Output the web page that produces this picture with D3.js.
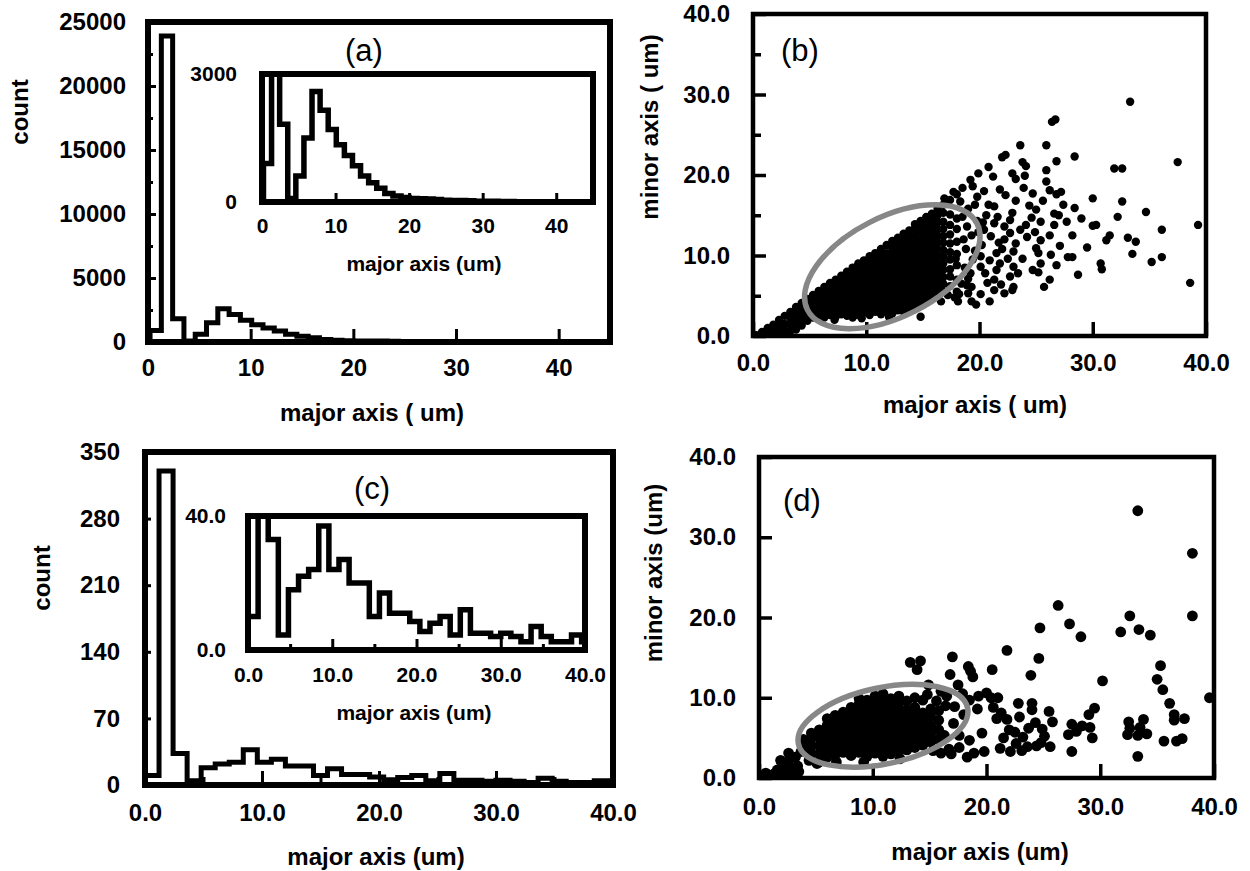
<!DOCTYPE html>
<html>
<head>
<meta charset="utf-8">
<script src="https://cdn.jsdelivr.net/npm/d3@7"></script>
<style>
  body { margin: 0; background: #fff; }
</style>
</head>
<body>
<script>
// ---- data ----

// (a) histogram of major axis, all objects (bin start, bin width, counts)
var aBinStart = 0.2;
var aBinWidth = 1.1;
var aCounts = [900, 23900, 1820, 80, 610, 1500, 2590, 2150, 1700, 1340, 1090, 850, 610, 450,
  325, 200, 140, 105, 80, 75, 70, 60, 40, 35, 35, 30, 20, 15, 15, 12, 10, 8, 8, 6, 5, 5, 4, 3, 3, 2];

// (c) histogram of major axis, selected objects
var cBinStart = 0;
var cBinWidth = 1.2;
var cCounts = [10, 330, 33, 4.5, 18, 22, 24, 37, 24, 27, 20, 20, 10, 17, 11, 11, 8.5, 5.5, 8,
  10, 4.5, 12, 5, 5, 4, 5, 4, 2.5, 7, 4, 2.5, 2.5, 4.5, 2.5];

// tick labels
var aYTicks = [0, 5000, 10000, 15000, 20000, 25000];
var aYMinor = [2500, 7500, 12500, 17500, 22500];
var aXTicks = [0, 10, 20, 30, 40];
var aInsetYTicks = [0, 3000];
var cYTicks = [0, 70, 140, 210, 280, 350];
var xTicks40 = [0, 10, 20, 30, 40];
var minor5 = [5, 15, 25, 35];
var cInsetYTicks = [0, 40];

// (b) scatter, dense core as columns [major, [minor...]]
var bCore = [
  [0.3, [0.1]], [0.8, [0.5]], [1.3, [0.4, 1.0]], [1.8, [0.6, 1.4]], [2.3, [0.5, 1.3, 2.0]],
  [2.8, [0.7, 1.5, 2.5]], [3.3, [0.6, 1.4, 2.2, 3.0]], [3.8, [0.8, 1.6, 2.4, 3.2, 3.6]],
  [4.3, [1.3, 2.0, 2.8, 3.6, 4.1]], [4.8, [1.9, 2.6, 3.4, 4.1, 4.6]], [5.3, [2.3, 3.0, 3.8, 4.5, 5.1]],
  [5.8, [2.5, 3.3, 4.1, 4.9, 5.6]], [6.3, [2.3, 3.0, 3.8, 4.6, 5.4, 6.1]],
  [6.8, [2.6, 3.4, 4.2, 5.0, 5.8, 6.6]], [7.3, [2.4, 3.2, 4.0, 4.8, 5.6, 6.3, 7.0]],
  [7.8, [2.7, 3.5, 4.3, 5.1, 5.9, 6.7, 7.5]], [8.3, [2.5, 3.3, 4.1, 4.9, 5.6, 6.4, 7.2, 8.0]],
  [8.8, [2.3, 3.0, 3.8, 4.6, 5.4, 6.2, 7.0, 7.8, 8.5]], [9.3, [2.6, 3.4, 4.2, 5.0, 5.8, 6.6, 7.4, 8.2, 9.0]],
  [9.8, [2.9, 3.7, 4.5, 5.3, 6.1, 6.9, 7.7, 8.5, 9.4]],
  [10.3, [2.6, 3.4, 4.2, 5.0, 5.8, 6.6, 7.4, 8.2, 9.0, 9.9]],
  [10.8, [3.0, 3.8, 4.6, 5.4, 6.2, 7.0, 7.8, 8.6, 9.4, 10.3]],
  [11.3, [2.7, 3.5, 4.3, 5.1, 5.9, 6.7, 7.5, 8.3, 9.1, 9.9, 10.8]],
  [11.8, [3.1, 3.9, 4.7, 5.5, 6.3, 7.1, 7.9, 8.7, 9.5, 10.3, 11.3]],
  [12.3, [2.8, 3.6, 4.4, 5.2, 6.0, 6.8, 7.6, 8.4, 9.2, 10.0, 10.9, 11.8]],
  [12.8, [3.2, 4.0, 4.8, 5.6, 6.4, 7.2, 8.0, 8.8, 9.6, 10.4, 11.3, 12.2]],
  [13.3, [3.0, 3.7, 4.5, 5.3, 6.1, 6.9, 7.7, 8.5, 9.3, 10.1, 10.9, 11.8, 12.7]],
  [13.8, [3.4, 4.1, 4.9, 5.7, 6.5, 7.3, 8.1, 8.9, 9.7, 10.5, 11.3, 12.2, 13.1]],
  [14.3, [3.6, 4.4, 5.2, 6.0, 6.8, 7.6, 8.4, 9.2, 10.0, 10.8, 11.6, 12.5, 13.4, 13.9]],
  [14.8, [4.0, 4.8, 5.6, 6.4, 7.2, 8.0, 8.8, 9.6, 10.4, 11.2, 12.0, 12.8, 13.7, 14.3]],
  [15.3, [4.3, 5.1, 5.9, 6.7, 7.5, 8.3, 9.1, 9.9, 10.7, 11.5, 12.3, 13.1, 14.0, 14.8]],
  [15.8, [4.7, 5.5, 6.3, 7.1, 7.9, 8.7, 9.5, 10.3, 11.1, 11.9, 12.7, 13.5, 14.4, 15.2]],
  [16.3, [5.2, 6.0, 6.8, 7.6, 8.4, 9.2, 10.0, 10.8, 11.6, 12.4, 13.2, 14.1, 15.0, 15.8]],
  [16.8, [5.6, 6.5, 7.3, 8.2, 9.0, 9.9, 10.7, 11.6, 12.4, 13.3, 14.2, 15.3, 16.3]],
  [17.4, [6.2, 7.4, 8.3, 9.5, 10.4, 11.5, 12.6, 13.8, 15.1, 16.9]],
  [18.0, [5.5, 7.0, 8.8, 10.2, 11.7, 13.3, 14.6, 17.6]]
];

// (b) scattered points [major, minor]
var bScatter = [
  [33.3, 29.1], [26.4, 26.6], [26.7, 26.9], [23.6, 23.7], [25.9, 23.7], [28.4, 22.3], [22.0, 22.2],
  [22.3, 22.5], [37.5, 21.6], [23.8, 21.6], [24.1, 21.1], [26.8, 21.7], [20.8, 21.0], [19.9, 20.2],
  [25.9, 20.6], [31.9, 20.8], [32.6, 20.8], [19.2, 19.4], [23.2, 19.5], [19.4, 18.6], [25.9, 19.2],
  [30.0, 17.1], [23.9, 18.4], [24.7, 17.7], [26.2, 18.1], [26.8, 17.6], [27.2, 17.9], [22.3, 17.5],
  [32.6, 16.7], [18.3, 16.7], [20.8, 16.3], [21.3, 16.1], [25.0, 15.7], [28.4, 15.9], [26.6, 15.2],
  [34.7, 15.4], [32.2, 14.8], [27.7, 14.2], [25.4, 14.2], [30.0, 13.7], [30.3, 13.8], [39.3, 13.8],
  [36.1, 13.2], [24.1, 13.8], [23.6, 13.2], [31.5, 12.5], [33.1, 12.2], [33.8, 11.7], [28.2, 12.5],
  [26.2, 12.5], [31.2, 11.9], [25.4, 11.9], [25.0, 10.9], [23.2, 11.5], [23.0, 10.5], [33.5, 10.2],
  [27.8, 9.8], [28.2, 9.8], [36.1, 9.8], [35.2, 9.2], [30.7, 9.0], [30.8, 8.3], [26.8, 8.8],
  [25.2, 10.3], [25.4, 9.0], [24.7, 8.2], [25.2, 7.9], [26.2, 7.0], [25.7, 6.1], [38.6, 6.6],
  [23.0, 8.6], [23.4, 7.8], [22.7, 7.4], [23.0, 6.1], [22.9, 5.7], [22.2, 5.3], [21.3, 5.7],
  [20.9, 4.3], [19.3, 4.3], [19.7, 3.9], [18.1, 4.3], [14.8, 2.4], [21.5, 10.3], [21.8, 9.0],
  [21.5, 8.2], [21.3, 7.0], [20.4, 13.2], [20.2, 11.3], [20.1, 9.9], [20.1, 8.6], [21.6, 14.8],
  [22.2, 13.6], [22.7, 14.4], [22.2, 12.0], [22.7, 12.8], [19.2, 7.8], [19.3, 6.1], [19.0, 5.3],
  [18.4, 6.5], [18.2, 5.2], [22.0, 10.8], [22.5, 9.6], [21.0, 12.4], [21.3, 14.0], [20.6, 15.0],
  [19.8, 14.3], [19.3, 12.5], [19.0, 15.8], [18.8, 10.8], [19.4, 9.5], [20.7, 6.6], [21.9, 6.4],
  [23.8, 9.6], [24.2, 12.3], [24.4, 16.2], [23.2, 16.8], [24.6, 14.7], [22.9, 15.3], [21.8, 18.2],
  [20.4, 18.0], [19.8, 17.3], [21.2, 19.8], [22.9, 20.2], [24.9, 12.9], [26.6, 13.8], [27.1, 11.2],
  [26.3, 10.1], [27.4, 16.3], [25.6, 16.8], [24.0, 19.9], [29.0, 14.6], [29.5, 11.0], [28.7, 7.6],
  [27.0, 15.0], [7.2, 2.0], [9.6, 2.2], [12.0, 2.4],
  [18.6, 12.0], [18.9, 13.6], [18.7, 8.5], [19.6, 10.6], [19.9, 12.9], [20.5, 7.8], [20.9, 9.4],
  [17.8, 4.8], [16.6, 4.3], [17.2, 5.1], [18.5, 14.8], [19.6, 16.3], [20.1, 5.2], [21.7, 11.6],
  [17.7, 17.9], [18.5, 18.4], [16.9, 17.1], [17.9, 9.6], [19.0, 7.1], [20.3, 14.1], [18.9, 6.3]
];

// (d) scatter, dense core as columns [major, [minor...]]
var dCore = [
  [3.9, [3.8, 4.8]], [4.6, [3.0, 4.0, 5.0, 5.6]], [5.3, [2.0, 3.0, 4.0, 5.0, 6.0]],
  [6.0, [2.6, 3.6, 4.6, 5.6, 6.6, 7.4]], [6.7, [2.9, 3.9, 4.9, 5.9, 6.9, 7.8]],
  [7.4, [3.2, 4.2, 5.2, 6.2, 7.2, 8.2]], [8.1, [2.8, 3.8, 4.8, 5.8, 6.8, 7.8, 8.8]],
  [8.8, [3.2, 4.2, 5.2, 6.2, 7.2, 8.2, 9.2, 9.9]], [9.5, [2.7, 3.7, 4.7, 5.7, 6.7, 7.7, 8.7, 9.7]],
  [10.2, [3.1, 4.1, 5.1, 6.1, 7.1, 8.1, 9.1, 10.2]],
  [10.9, [2.7, 3.7, 4.7, 5.7, 6.7, 7.7, 8.7, 9.6, 10.5]],
  [11.6, [3.0, 4.0, 5.0, 6.0, 7.0, 8.0, 9.0, 9.9]], [12.3, [3.3, 4.3, 5.3, 6.3, 7.3, 8.3, 9.3, 10.2]],
  [13.0, [3.5, 4.5, 5.5, 6.5, 7.5, 8.5, 9.6]], [13.7, [3.8, 4.8, 5.8, 6.8, 7.8, 8.8, 10.0]],
  [14.4, [4.1, 5.1, 6.1, 7.1, 8.1, 9.7]], [15.1, [4.5, 5.5, 6.5, 7.6, 8.6]], [15.8, [4.8, 6.0, 7.2, 8.4]]
];

// (d) scattered points [major, minor]
var dScatter = [
  [0.2, 0.3], [0.6, 0.6], [0.9, 0.2], [1.3, 0.5], [1.6, 1.0], [1.9, 0.3], [2.1, 1.4], [2.3, 0.7],
  [2.6, 2.1], [2.8, 1.2], [3.0, 0.4], [3.2, 2.6], [3.4, 1.5], [3.5, 0.8], [3.7, 3.3], [1.9, 2.2],
  [2.6, 3.1], [5.1, 1.8],
  [33.3, 33.3], [38.1, 28.0], [38.1, 20.2], [26.3, 21.5], [32.6, 20.2], [24.7, 18.7], [27.3, 19.2],
  [33.4, 18.5], [31.8, 18.2], [34.4, 17.8], [28.3, 17.6], [21.8, 15.9], [24.6, 14.9], [17.0, 15.1],
  [13.3, 14.4], [13.9, 13.5], [14.2, 14.6], [35.3, 14.0], [18.4, 13.9], [18.6, 13.3], [18.8, 12.6],
  [20.5, 13.5], [23.9, 12.8], [16.8, 12.9], [30.2, 12.1], [17.5, 11.6], [35.5, 11.0], [14.9, 11.6],
  [16.0, 10.8], [16.5, 10.2], [39.6, 10.0], [19.3, 10.2], [20.0, 10.6], [20.4, 10.0], [21.0, 10.0],
  [22.8, 9.3], [24.0, 9.3], [24.0, 8.5], [29.5, 8.7], [29.0, 7.9], [36.1, 9.3], [36.5, 7.9],
  [36.5, 7.2], [25.8, 7.0], [21.3, 8.1], [21.8, 7.3], [22.0, 6.0], [20.6, 8.8], [20.9, 7.4],
  [27.5, 6.7], [27.9, 5.8], [27.2, 5.4], [28.4, 6.5], [29.1, 6.3], [29.3, 5.0], [32.5, 7.0],
  [32.6, 6.2], [33.5, 6.3], [33.3, 5.3], [34.1, 5.5], [32.4, 5.4], [33.8, 7.3], [25.6, 3.9],
  [27.5, 3.3], [33.3, 2.7], [35.6, 4.6], [36.7, 4.6], [37.2, 4.9], [18.9, 3.1], [19.8, 3.3],
  [16.0, 3.1], [16.7, 3.6], [23.2, 5.1], [22.6, 4.3], [22.1, 3.3], [23.6, 3.9], [24.4, 4.0],
  [23.1, 3.4], [24.8, 4.4], [25.1, 5.2], [24.9, 6.1], [23.7, 6.2], [22.5, 5.7], [21.5, 5.0],
  [19.6, 5.6], [18.5, 4.7], [17.6, 5.3], [17.1, 6.8], [18.0, 7.9], [19.2, 8.6], [18.5, 9.7],
  [17.2, 8.9], [16.9, 3.0], [17.6, 3.8], [18.3, 2.6], [25.5, 8.3], [24.3, 6.9], [22.9, 7.6],
  [35.0, 12.3], [37.4, 7.4], [21.2, 3.7],
  [14.8, 10.4], [15.6, 9.6], [16.4, 9.0], [17.9, 10.5], [16.3, 5.3], [6.8, 2.0], [9.2, 2.0],
  [12.4, 2.4], [15.3, 3.4], [4.4, 2.2]
];

// highlighted clusters: centre [major, minor], semi-axes in major-axis units, tilt in degrees
var bEllipse = { cx: 12.3, cy: 8.6, a: 8.4, b: 4.4, angle: -27 };
var dEllipse = { cx: 10.9, cy: 6.5, a: 7.6, b: 3.35, angle: -12 };

// ---- drawing ----
var FONT = "'Liberation Sans', Arial, Helvetica, sans-serif";
var svgWidth = 1250;
var svgHeight = 871;

var svg = d3.select("body")
  .append("svg")
  .attr("width", svgWidth)
  .attr("height", svgHeight)
  .style("display", "block");

var defs = svg.append("defs");

function flatten(cols) {
  var out = [];
  cols.forEach(function(c) {
    c[1].forEach(function(v) { out.push([c[0], v]); });
  });
  return out;
}

function frame(x, y, lw, fill) {
  return svg.append("rect")
    .attr("x", x.range()[0])
    .attr("y", y.range()[1])
    .attr("width", x.range()[1] - x.range()[0])
    .attr("height", y.range()[0] - y.range()[1])
    .attr("fill", fill || "none")
    .attr("stroke", "#000")
    .attr("stroke-width", lw);
}

function clipFor(id, x, y) {
  defs.append("clipPath").attr("id", id)
    .append("rect")
    .attr("x", x.range()[0])
    .attr("y", y.range()[1])
    .attr("width", x.range()[1] - x.range()[0])
    .attr("height", y.range()[0] - y.range()[1]);
}

function addAxis(axis, tx, ty, size, tickWidth) {
  var g = svg.append("g")
    .attr("transform", "translate(" + tx + "," + ty + ")")
    .call(axis);
  g.select(".domain").remove();
  g.attr("font-family", FONT).attr("font-size", size).attr("font-weight", "bold");
  g.selectAll(".tick line").attr("stroke", "#000").attr("stroke-width", tickWidth);
  g.selectAll(".tick text").attr("fill", "#000");
  return g;
}

function histogram(x, y, start, width, counts, lw, clipId) {
  var pts = [[start, 0]];
  counts.forEach(function(c, i) { pts.push([start + i * width, c]); });
  pts.push([start + counts.length * width, 0]);
  var line = d3.line()
    .x(function(d) { return x(d[0]); })
    .y(function(d) { return y(d[1]); })
    .curve(d3.curveStepAfter);
  svg.append("path")
    .attr("d", line(pts))
    .attr("fill", "none")
    .attr("stroke", "#000")
    .attr("stroke-width", lw)
    .attr("stroke-linejoin", "miter")
    .attr("clip-path", "url(#" + clipId + ")");
}

function label(text, x, y, size, weight, rotate) {
  var t = svg.append("text")
    .attr("x", x).attr("y", y)
    .attr("dy", "0.35em")
    .attr("text-anchor", "middle")
    .attr("font-family", FONT)
    .attr("font-size", size)
    .attr("font-weight", weight)
    .attr("fill", "#000")
    .text(text);
  if (rotate) t.attr("transform", "rotate(-90," + x + "," + y + ")");
}

function scatter(x, y, pts, r, clipId) {
  svg.append("g").attr("clip-path", "url(#" + clipId + ")")
    .selectAll("circle")
    .data(pts)
    .enter()
    .append("circle")
      .attr("cx", function(d) { return x(d[0]); })
      .attr("cy", function(d) { return y(d[1]); })
      .attr("r", r)
      .attr("fill", "#000");
}

function ellipse(x, y, e) {
  var cx = x(e.cx), cy = y(e.cy);
  var k = x(1) - x(0);
  svg.append("ellipse")
    .attr("cx", cx).attr("cy", cy)
    .attr("rx", e.a * k).attr("ry", e.b * k)
    .attr("transform", "rotate(" + e.angle + "," + cx + "," + cy + ")")
    .attr("fill", "none")
    .attr("stroke", "#878787")
    .attr("stroke-width", 5.5);
}

var fmtInt = d3.format("d");
var fmt1 = d3.format(".1f");

// ===== (a) =====
var aX = d3.scaleLinear().domain([0, 45]).range([148, 610]);
var aY = d3.scaleLinear().domain([0, 25000]).range([342, 22]);
clipFor("clipA", aX, aY);
histogram(aX, aY, aBinStart, aBinWidth, aCounts, 5, "clipA");
addAxis(d3.axisLeft(aY).tickValues(aYTicks).tickSize(-8).tickPadding(22).tickFormat(fmtInt), aX.range()[0], 0, 24, 3);
addAxis(d3.axisLeft(aY).tickValues(aYMinor).tickSize(-5).tickFormat(""), aX.range()[0], 0, 24, 3);
addAxis(d3.axisBottom(aX).tickValues(aXTicks).tickSize(-13).tickPadding(17).tickFormat(fmtInt), 0, aY.range()[0], 24, 3);
frame(aX, aY, 6);
label("count", 20, 112, 24, "bold", true);
label("major axis ( um)", 372, 413, 24, "bold");
label("(a)", 364, 50, 31, "normal");

// inset (a)
var aiX = d3.scaleLinear().domain([0, 45]).range([262, 593]);
var aiY = d3.scaleLinear().domain([0, 3000]).range([202, 74]);
frame(aiX, aiY, 0, "#fff");
clipFor("clipAi", aiX, aiY);
histogram(aiX, aiY, aBinStart, aBinWidth, aCounts, 5.5, "clipAi");
addAxis(d3.axisLeft(aiY).tickValues(aInsetYTicks).tickSize(0).tickPadding(25).tickFormat(fmtInt), aiX.range()[0], 0, 21, 3);
addAxis(d3.axisBottom(aiX).tickValues([10, 20, 30, 40]).tickSize(-9).tickPadding(0).tickFormat(""), 0, aiY.range()[0], 21, 3);
addAxis(d3.axisBottom(aiX).tickValues(aXTicks).tickSize(0).tickPadding(16).tickFormat(fmtInt), 0, aiY.range()[0], 21, 3);
frame(aiX, aiY, 6);
label("major axis (um)", 424, 264, 21, "bold");

// ===== (b) =====
var bX = d3.scaleLinear().domain([0, 40]).range([753, 1206]);
var bY = d3.scaleLinear().domain([0, 40]).range([336, 14]);
clipFor("clipB", bX, bY);
scatter(bX, bY, flatten(bCore).concat(bScatter), 4.2, "clipB");
addAxis(d3.axisLeft(bY).tickValues(xTicks40).tickSize(-13).tickPadding(23).tickFormat(fmt1), bX.range()[0], 0, 24, 3.5);
addAxis(d3.axisLeft(bY).tickValues(minor5).tickSize(-8).tickFormat(""), bX.range()[0], 0, 24, 3.5);
addAxis(d3.axisBottom(bX).tickValues(xTicks40).tickSize(-14).tickPadding(18).tickFormat(fmt1), 0, bY.range()[0], 24, 3.5);
frame(bX, bY, 4.5);
ellipse(bX, bY, bEllipse);
label("minor axis ( um)", 650, 127, 24, "bold", true);
label("major axis ( um)", 975, 405, 24, "bold");
label("(b)", 800, 50, 31, "normal");

// ===== (c) =====
var cX = d3.scaleLinear().domain([0, 40]).range([145, 613]);
var cY = d3.scaleLinear().domain([0, 350]).range([785, 452]);
clipFor("clipC", cX, cY);
histogram(cX, cY, cBinStart, cBinWidth, cCounts, 5, "clipC");
addAxis(d3.axisLeft(cY).tickValues(cYTicks).tickSize(-6).tickPadding(25).tickFormat(fmtInt), cX.range()[0], 0, 24, 3);
addAxis(d3.axisBottom(cX).tickValues(xTicks40).tickSize(-14).tickPadding(19).tickFormat(fmt1), 0, cY.range()[0], 24, 3);
addAxis(d3.axisBottom(cX).tickValues(minor5).tickSize(-8).tickFormat(""), 0, cY.range()[0], 24, 3);
frame(cX, cY, 6);
label("count", 42, 578, 24, "bold", true);
label("major axis (um)", 376, 857, 24, "bold");
label("(c)", 372, 488, 31, "normal");

// inset (c)
var ciX = d3.scaleLinear().domain([0, 40]).range([248, 585]);
var ciY = d3.scaleLinear().domain([0, 40]).range([650, 516]);
frame(ciX, ciY, 0, "#fff");
clipFor("clipCi", ciX, ciY);
histogram(ciX, ciY, cBinStart, cBinWidth, cCounts, 5.5, "clipCi");
addAxis(d3.axisLeft(ciY).tickValues(cInsetYTicks).tickSize(0).tickPadding(22).tickFormat(fmt1), ciX.range()[0], 0, 21, 3);
addAxis(d3.axisBottom(ciX).tickValues([10, 20, 30]).tickSize(-11).tickFormat(""), 0, ciY.range()[0], 21, 3);
addAxis(d3.axisBottom(ciX).tickValues(minor5).tickSize(-6).tickFormat(""), 0, ciY.range()[0], 21, 3);
addAxis(d3.axisBottom(ciX).tickValues(xTicks40).tickSize(0).tickPadding(17).tickFormat(fmt1), 0, ciY.range()[0], 21, 3);
frame(ciX, ciY, 6);
label("major axis (um)", 414, 713, 21, "bold");

// ===== (d) =====
var dX = d3.scaleLinear().domain([0, 40]).range([759, 1214]);
var dY = d3.scaleLinear().domain([0, 40]).range([778, 457]);
clipFor("clipD", dX, dY);
scatter(dX, dY, flatten(dCore).concat(dScatter), 5.4, "clipD");
addAxis(d3.axisLeft(dY).tickValues(xTicks40).tickSize(-13).tickPadding(23).tickFormat(fmt1), dX.range()[0], 0, 24, 3.5);
addAxis(d3.axisBottom(dX).tickValues(xTicks40).tickSize(-14).tickPadding(20).tickFormat(fmt1), 0, dY.range()[0], 24, 3.5);
frame(dX, dY, 4.5);
ellipse(dX, dY, dEllipse);
label("minor axis (um)", 654, 573, 24, "bold", true);
label("major axis (um)", 980, 852, 24, "bold");
label("(d)", 802, 500, 31, "normal");
</script>
</body>
</html>
